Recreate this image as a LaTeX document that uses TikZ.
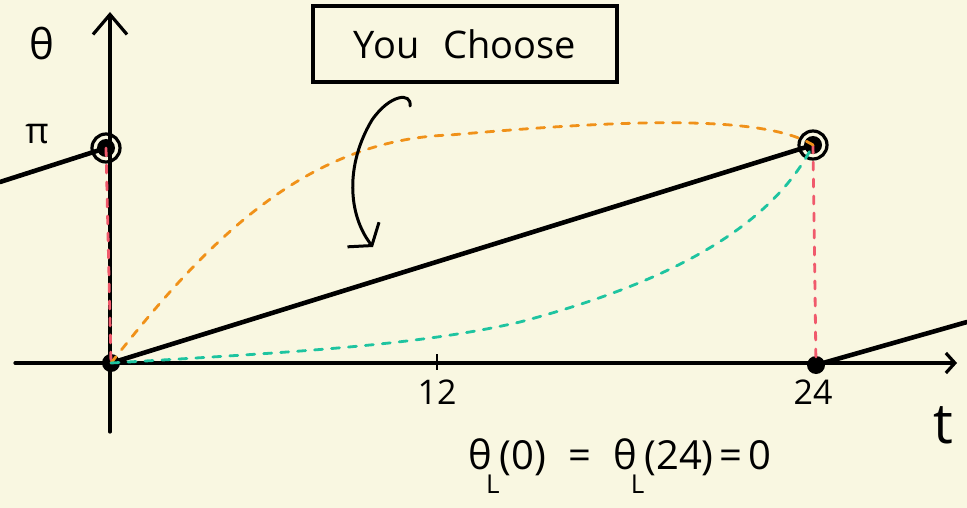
\documentclass[tikz,border=0pt]{standalone}
\usepackage{fontspec}
\setsansfont{Open Sans}
\usetikzlibrary{arrows.meta}
\definecolor{bg}{RGB}{249,247,225}
\definecolor{redd}{RGB}{240,90,108}
\definecolor{orng}{RGB}{240,145,25}
\definecolor{tealc}{RGB}{30,196,160}
\begin{document}
\begin{tikzpicture}[x=1pt,y=-1pt,
  axis/.style={line width=3.2pt,line cap=round},
  seg/.style={line width=4.6pt,line cap=round},
  dot/.style={circle,fill=black,inner sep=0pt,minimum size=18pt},
  ring/.style={circle,draw=black,line width=3.2pt,inner sep=0pt,minimum size=28pt},
  dsh/.style={line width=2.8pt,line cap=round,dash pattern=on 8pt off 9pt},
  lbl/.style={font=\sffamily\fontsize{34}{34}\selectfont,inner sep=0pt}]
\fill[bg] (0,0) rectangle (967,508);
\useasboundingbox (0,0) rectangle (967,508);

% axes
\coordinate (ybot) at (110,432);
\coordinate (ytop) at (110,12);
\coordinate (xl) at (15,363);
\coordinate (xr) at (957,363);
\draw[axis,-{Straight Barb[length=20pt,width=34pt,line width=3.2pt]}] (ybot) -- (ytop);
\draw[axis,-{Straight Barb[length=9pt,width=20pt,line width=3.2pt]}] (xl) -- (xr);

% tick at 12
\coordinate (t12a) at (437,354);
\coordinate (t12b) at (437,370);
\draw[line width=2.6pt] (t12a) -- (t12b);

% points
\node[dot] (O) at (111,363) {};
\node[dot] (A) at (106,148) {};
\node[ring] (Ar) at (106,148) {};
\node[dot] (P) at (813,145) {};
\node[ring] (Pr) at (813,145) {};
\node[dot] (T) at (816,365) {};

% straight pieces
\coordinate (lw) at (0,182);
\coordinate (re) at (967,322);
\draw[seg] (lw) -- (A.center);
\draw[seg] (O.center) -- (P.center);
\draw[seg] (T.center) -- (re);

% red dashed verticals
\draw[dsh,redd] (A.center) -- (O.center);
\draw[dsh,redd] (P.center) -- (T.center);

% orange curve
\coordinate (o1) at (450,135);
\draw[dsh,orng] (O.center) .. controls (200,250) and (300,140) .. (o1)
   .. controls (600,122) and (760,112) .. (P.center);

% teal curve
\coordinate (g1) at (520,322);
\draw[dsh,tealc] (O.center) .. controls (300,352) and (420,345) .. (g1)
   .. controls (640,290) and (765,240) .. (P.center);

% box
\node[draw=black,line width=3.2pt,minimum width=304pt,minimum height=76pt,inner sep=0pt,
      font=\sffamily\fontsize{38}{38}\selectfont] (box) at (465,44) {You\hspace{24pt}Choose};

% curved arrow
\coordinate (ca) at (410,106);
\coordinate (cb) at (373,247);
\draw[line width=3pt,line cap=round,-{Straight Barb[length=14pt,width=40pt,line width=3pt]}]
  (ca) .. controls (412,92) and (390,94) .. (372,120)
       .. controls (345,165) and (348,215) .. (cb);

% labels
\node[lbl,font=\sffamily\fontsize{42}{42}\selectfont] (theta) at (42,44) {θ};
\node[lbl,font=\sffamily\fontsize{36}{36}\selectfont] (pi) at (37,134) {π};
\node[lbl] (l12) at (437,392) {12};
\node[lbl] (l24) at (813,392) {24};
\node[lbl,font=\sffamily\fontsize{56}{56}\selectfont] (tl) at (943,425) {t};
\node[lbl,font=\sffamily\fontsize{40}{40}\selectfont] (eq) at (620,466)
  {θ\kern-6pt\raisebox{-0.6em}{\fontsize{26}{26}\selectfont L}(0)\hspace{22pt}=\hspace{22pt}θ\kern-6pt\raisebox{-0.6em}{\fontsize{26}{26}\selectfont L}(24)\hspace{6pt}=\hspace{6pt}0};
\end{tikzpicture}
\end{document}
